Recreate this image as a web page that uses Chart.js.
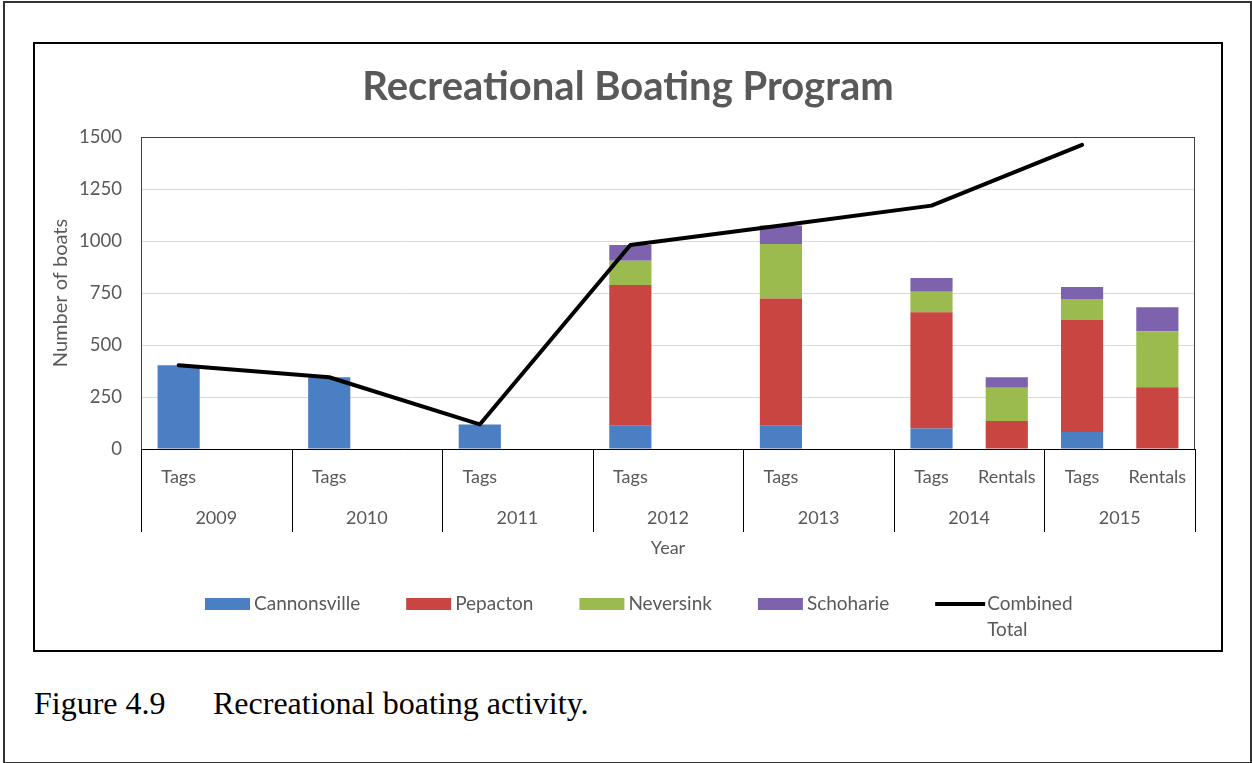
<!DOCTYPE html>
<html>
<head>
<meta charset="utf-8">
<script src="https://cdn.jsdelivr.net/npm/chart.js@4/dist/chart.umd.min.js"></script>
<style>
  body { margin: 0; background: #fff; }
  #page-frame { position: absolute; left: 3px; top: 1px; width: 1245px; height: 759px; border: 2px solid #333; }
  #chart-box { position: absolute; left: 33px; top: 42px; width: 1186px; height: 606px; border: 2px solid #000; }
  .caption { position: absolute; top: 687px; font: 32px 'Liberation Serif', 'Times New Roman', serif; line-height: 32px; color: #000; }
</style>
</head>
<body>
<div id="page-frame"></div>
<div id="chart-box"><canvas id="boatChart" width="1186" height="606"></canvas></div>
<div class="caption" style="left:34px">Figure 4.9</div>
<div class="caption" style="left:213px">Recreational boating activity.</div>

<script>
// two slots per year: tags, then rentals (rentals only from 2014)
const categories = ['Tags', '', 'Tags', '', 'Tags', '', 'Tags', '', 'Tags', '', 'Tags', 'Rentals', 'Tags', 'Rentals'];
const years = ['2009', '2010', '2011', '2012', '2013', '2014', '2015'];

const cannonsville = [403, null, 345, null, 118, null, 112, null, 112, null, 99, null, 82, null];
const pepacton     = [null, null, null, null, null, null, 676, null, 612, null, 558, 135, 538, 297];
const neversink    = [null, null, null, null, null, null, 117, null, 261, null, 99, 160, 101, 269];
const schoharie    = [null, null, null, null, null, null, 76, null, 90, null, 66, 50, 58, 115];
const combinedTotal = [403, null, 345, null, 118, null, 981, null, 1075, null, 1170, null, 1462, null];

const yTicks = [0, 250, 500, 750, 1000, 1250, 1500];

const colors = {
    cannonsville: '#4b7fc4',
    pepacton: '#c84541',
    neversink: '#9bbb4f',
    schoharie: '#7d63ae',
    total: '#000000'
};

const textGray = '#595959';
const fontFamily = 'Lato, "Open Sans", sans-serif';

// year row, group separators and plot frame
const yearAxisPlugin = {
    id: 'yearAxis',
    afterDraw(chart) {
        const ctx = chart.ctx;
        const x = chart.scales.x;
        const area = chart.chartArea;
        const step = x.getPixelForValue(1) - x.getPixelForValue(0);

        ctx.save();
        ctx.strokeStyle = '#404040';
        ctx.lineWidth = 1;
        ctx.strokeRect(area.left + 0.5, area.top + 0.5, area.right - area.left - 1, area.bottom - area.top);

        ctx.strokeStyle = '#000';
        ctx.beginPath();
        ctx.moveTo(area.left, area.bottom + 0.5);
        ctx.lineTo(area.right, area.bottom + 0.5);
        for (let g = 0; g <= years.length; g++) {
            const px = Math.round(x.getPixelForValue(g * 2) - step / 2) + 0.5;
            ctx.moveTo(px, area.bottom);
            ctx.lineTo(px, area.bottom + 83);
        }
        ctx.stroke();

        ctx.fillStyle = textGray;
        ctx.font = '18px ' + fontFamily;
        ctx.textAlign = 'center';
        ctx.textBaseline = 'middle';
        years.forEach((yr, g) => {
            const cx = (x.getPixelForValue(g * 2) + x.getPixelForValue(g * 2 + 1)) / 2;
            ctx.fillText(yr, cx, area.bottom + 69);
        });
        ctx.restore();
    }
};

// legend row under the axis, with the line label wrapped
const legendPlugin = {
    id: 'bottomLegend',
    afterDraw(chart) {
        const ctx = chart.ctx;
        const y = chart.chartArea.bottom + 155;
        const items = [
            { label: 'Cannonsville', color: colors.cannonsville },
            { label: 'Pepacton', color: colors.pepacton },
            { label: 'Neversink', color: colors.neversink },
            { label: 'Schoharie', color: colors.schoharie }
        ];
        ctx.save();
        ctx.font = '19px ' + fontFamily;
        ctx.textBaseline = 'middle';
        ctx.textAlign = 'left';
        let px = 170;
        items.forEach(it => {
            ctx.fillStyle = it.color;
            ctx.fillRect(px, y - 6, 45, 12);
            ctx.fillStyle = textGray;
            ctx.fillText(it.label, px + 49, y);
            px += 49 + ctx.measureText(it.label).width + 46;
        });
        ctx.strokeStyle = colors.total;
        ctx.lineWidth = 4;
        ctx.beginPath();
        ctx.moveTo(px, y);
        ctx.lineTo(px + 50, y);
        ctx.stroke();
        ctx.fillStyle = textGray;
        ctx.fillText('Combined', px + 52, y);
        ctx.fillText('Total', px + 52, y + 26);
        ctx.restore();
    }
};

const barDataset = (label, data, color) => ({
    type: 'bar',
    label: label,
    data: data,
    backgroundColor: color,
    borderWidth: 0,
    barPercentage: 0.56,
    categoryPercentage: 1,
    order: 1
});

new Chart(document.getElementById('boatChart'), {
    data: {
        labels: categories,
        datasets: [
            {
                type: 'line',
                label: 'Combined Total',
                data: combinedTotal,
                borderColor: colors.total,
                borderWidth: 4,
                pointRadius: 0,
                spanGaps: true,
                tension: 0,
                borderCapStyle: 'round',
                borderJoinStyle: 'round',
                order: 0
            },
            barDataset('Cannonsville', cannonsville, colors.cannonsville),
            barDataset('Pepacton', pepacton, colors.pepacton),
            barDataset('Neversink', neversink, colors.neversink),
            barDataset('Schoharie', schoharie, colors.schoharie)
        ]
    },
    options: {
        responsive: false,
        animation: false,
        layout: { padding: { left: 0, right: 0, top: 0, bottom: 76 } },
        plugins: {
            legend: { display: false },
            tooltip: { enabled: false },
            title: {
                display: true,
                text: 'Recreational Boating Program',
                color: textGray,
                font: { family: fontFamily, size: 40, weight: 'bold' },
                padding: { top: 19, bottom: 26 }
            }
        },
        scales: {
            x: {
                stacked: true,
                grid: { display: false },
                border: { display: false },
                ticks: {
                    color: textGray,
                    font: { family: fontFamily, size: 18 },
                    padding: 9,
                    maxRotation: 0,
                    autoSkip: false
                },
                title: {
                    display: true,
                    text: 'Year',
                    color: textGray,
                    font: { family: fontFamily, size: 18 },
                    padding: { top: 0, bottom: 15 }
                },
                afterFit: scale => { scale.height = 125; }
            },
            y: {
                stacked: true,
                min: 0,
                max: 1500,
                afterBuildTicks: scale => { scale.ticks = yTicks.map(v => ({ value: v })); },
                grid: { color: '#d9d9d9', drawTicks: false },
                border: { display: false },
                ticks: {
                    color: textGray,
                    font: { family: fontFamily, size: 18.5 },
                    padding: 19,
                    callback: value => String(value)
                },
                title: {
                    display: true,
                    text: 'Number of boats',
                    color: textGray,
                    font: { family: fontFamily, size: 20 },
                    padding: { top: 14, bottom: 0 }
                },
                afterFit: scale => { scale.width = 106; }
            },
            // empty right margin so the title stays centred on the whole box
            yRight: {
                position: 'right',
                grid: { display: false },
                border: { display: false },
                ticks: { display: false },
                afterFit: scale => { scale.width = 26; }
            }
        }
    },
    plugins: [yearAxisPlugin, legendPlugin]
});
</script>
</body>
</html>
